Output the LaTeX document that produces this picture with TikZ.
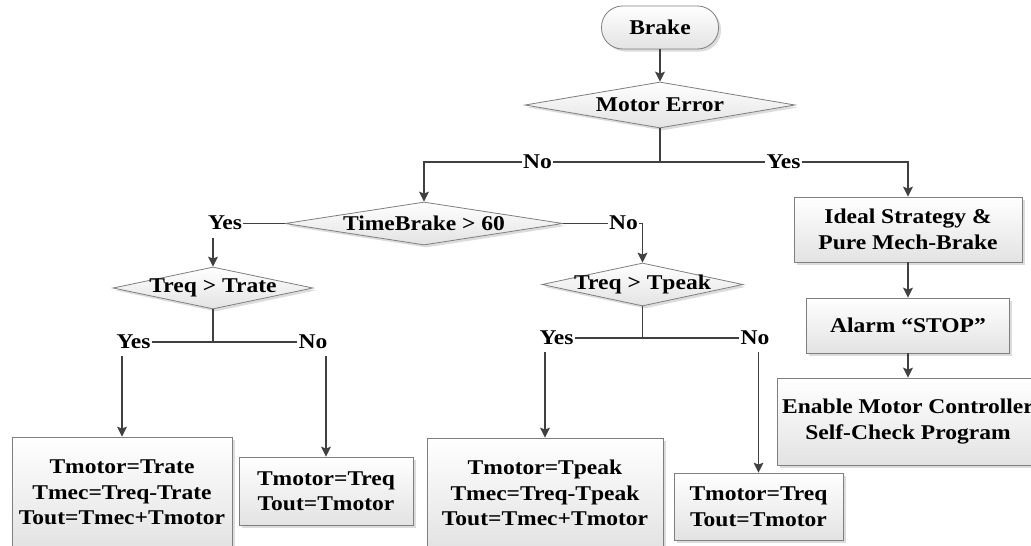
\documentclass[tikz,border=0pt]{standalone}
\usepackage{fontspec}
\setmainfont{Liberation Serif}[FakeStretch=1.12]
\usetikzlibrary{shapes.geometric,shadows,arrows.meta}
\definecolor{linegray}{HTML}{404040}
\definecolor{edgegray}{HTML}{7F7F7F}
\tikzset{
  base/.style = {draw=edgegray, line width=0.8pt, top color=white,
    bottom color=gray!22, align=center, inner sep=0pt,
    drop shadow={shadow xshift=2.5pt, shadow yshift=-2.5pt, fill=gray!45,
      draw=none, opacity=0.6}},
  term/.style = {base, rectangle, rounded corners=21pt},% Brake
  dec/.style = {base, diamond},% questions, text goes in a label
  proc/.style = {base, rectangle},% actions
  lab/.style = {inner sep=1pt, text height=12pt, text depth=0pt},% Yes / No
  conn/.style = {draw=linegray, line width=1.2pt},
  fromlab/.style = {conn, ->, shorten <=7pt}
}

\begin{document}
\begin{tikzpicture}[x=1pt, y=-1pt, >={Stealth[length=10pt,width=10pt,inset=2pt]},
    font=\fontsize{21}{25.5}\selectfont\bfseries]
  \path[use as bounding box, fill=white] (0,0) rectangle (1031,546);

  % shapes
  \node[term, minimum width=117pt, minimum height=43pt] (brake) at (660,27.5) {Brake};
  \node[dec, minimum width=270pt, minimum height=46pt,
        label=center:{Motor Error}] (err) at (660,105) {};
  \node[dec, minimum width=278pt, minimum height=43pt,
        label=center:{TimeBrake > 60}] (tb) at (424,223.5) {};
  \node[dec, minimum width=200pt, minimum height=42pt,
        label=center:{Treq > Trate}] (trate) at (213,288) {};
  \node[dec, minimum width=201pt, minimum height=43pt,
        label=center:{Treq > Tpeak}] (tpeak) at (642.5,284.5) {};
  \node[proc, minimum width=228pt, minimum height=65pt] (ideal) at (908,229.5)
        {Ideal Strategy \&\\Pure Mech-Brake};
  \node[proc, minimum width=203pt, minimum height=55pt] (alarm) at (908,325.5)
        {Alarm “STOP”};
  \node[proc, minimum width=262pt, minimum height=87pt] (enable) at (908,421.5)
        {Enable Motor Controller\\Self-Check Program};
  \node[proc, minimum width=220pt, minimum height=111pt] (r1) at (122,492.5)
        {Tmotor=Trate\\Tmec=Treq-Trate\\Tout=Tmec+Tmotor};
  \node[proc, minimum width=174pt, minimum height=68pt] (r2) at (326,491)
        {Tmotor=Treq\\Tout=Tmotor};
  \node[proc, minimum width=236pt, minimum height=110pt] (p1) at (545,493)
        {Tmotor=Tpeak\\Tmec=Treq-Tpeak\\Tout=Tmec+Tmotor};
  \node[proc, minimum width=169pt, minimum height=67pt] (p2) at (758.5,506.5)
        {Tmotor=Treq\\Tout=Tmotor};

  % branch labels
  \node[lab] (no1) at (537.5,162) {No};
  \node[lab] (yes1) at (783.5,162) {Yes};
  \node[lab] (yes2) at (225,223.5) {Yes};
  \node[lab] (no2) at (623.5,223.5) {No};
  \node[lab] (yes3) at (133.5,342) {Yes};
  \node[lab] (no3) at (313,342) {No};
  \node[lab] (yes4) at (556.5,338) {Yes};
  \node[lab] (no4) at (755,338) {No};

  % connectors
  \draw[conn, ->] (brake) -- (err);
  \draw[conn] (err.south) |- (no1.east);
  \draw[conn, ->] (no1.west) -| (tb.north);
  \draw[conn] (err.south) |- (yes1.west);
  \draw[conn, ->] (yes1.east) -| (ideal.north);
  \draw[conn, ->] (ideal) -- (alarm);
  \draw[conn, ->] (alarm) -- (enable);

  \draw[conn] (tb.west) -- (yes2.east);
  \draw[fromlab] (yes2.south -| trate.north) -- (trate.north);
  \draw[conn] (tb.east) -- (no2.west);
  \draw[conn, ->] (no2.east) -| (tpeak.north);

  \draw[conn] (trate.south) |- (yes3.east);
  \draw[conn] (trate.south) |- (no3.west);
  \draw[fromlab] (yes3.south -| r1.north) -- (r1.north);
  \draw[fromlab] (no3.south -| r2.north) -- (r2.north);

  \draw[conn] (tpeak.south) |- (yes4.east);
  \draw[conn] (tpeak.south) |- (no4.west);
  \draw[fromlab] (yes4.south -| p1.north) -- (p1.north);
  \draw[fromlab] (no4.south -| p2.north) -- (p2.north);
\end{tikzpicture}
\end{document}
